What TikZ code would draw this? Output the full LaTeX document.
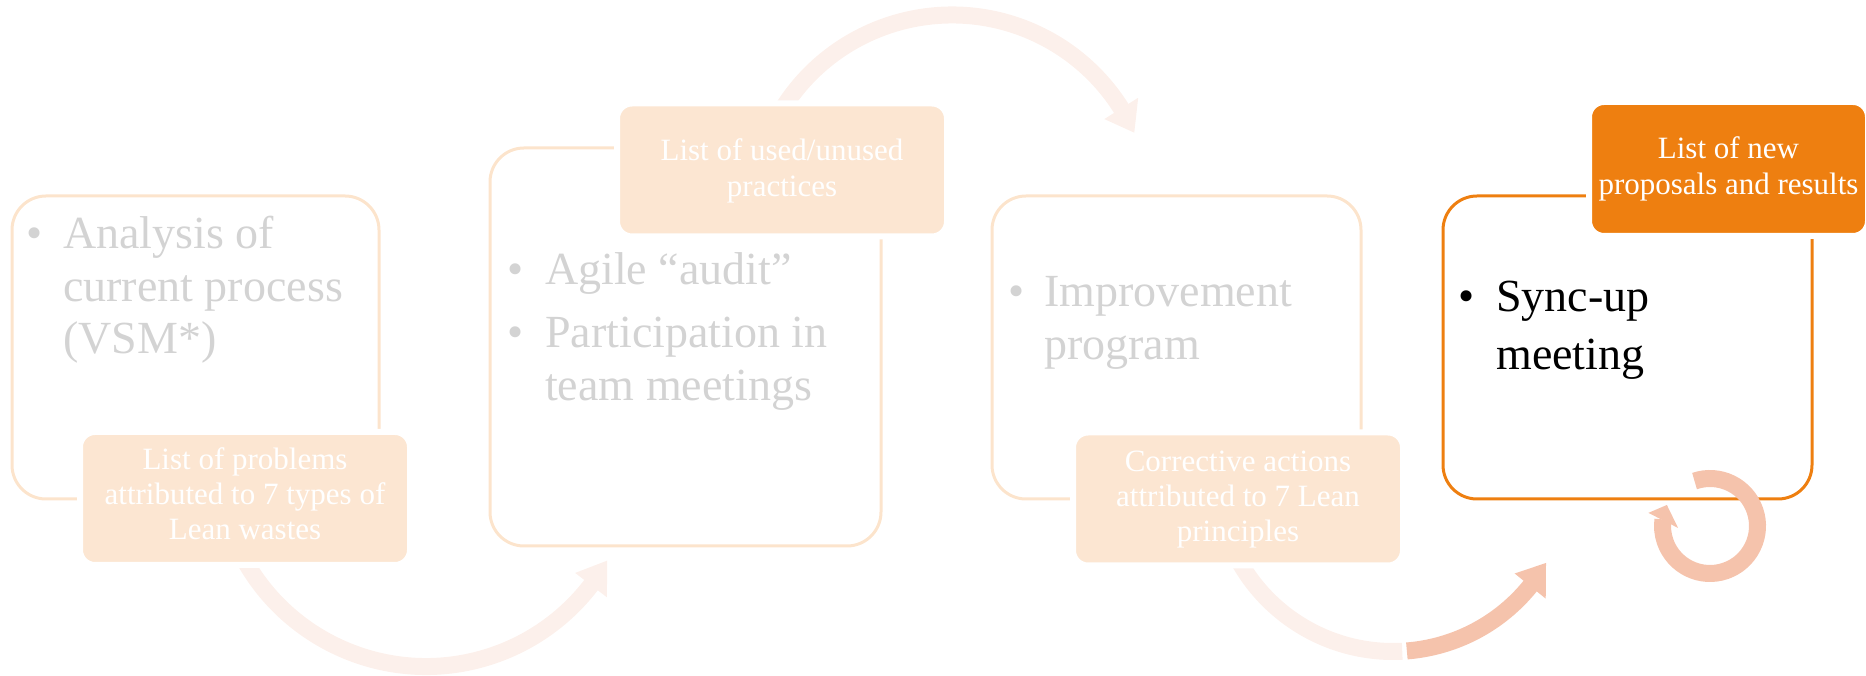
\documentclass[tikz,border=0pt]{standalone}
\usepackage{fontspec}
\setmainfont{Liberation Serif}
\usetikzlibrary{calc}
\definecolor{outF}{HTML}{FCE4CC}
\definecolor{lblF}{HTML}{FCE6D2}
\definecolor{txtG}{HTML}{D3D3D3}
\definecolor{arrF}{HTML}{FCF0EB}
\definecolor{salmon}{HTML}{F5C3AC}
\definecolor{orng}{HTML}{EE7F10}
\begin{document}
\begin{tikzpicture}[x=1pt,y=1pt,
 outbox/.style={draw=#1, line width=3pt, rounded corners=34pt, inner sep=0pt},
 lblbox/.style={fill=#1, draw=white, line width=6pt, rounded corners=15pt, inner sep=0pt, minimum width=330pt, minimum height=133pt},
 bigtxt/.style={font=\fontsize{46}{53}\selectfont, inner sep=0pt, anchor=base west, text=txtG},
 bul/.style={font=\fontsize{46}{53}\selectfont, inner sep=0pt, anchor=base, text=txtG},
 lbltxt/.style={font=\fontsize{31}{35}\selectfont, inner sep=0pt, anchor=base, text=white},
 band/.style={line width=17pt}
]
\useasboundingbox (0,0) rectangle (1866,676);
% outline boxes
\node[outbox=outF, minimum width=367pt, minimum height=303pt] (b1) at (195.5,328.5) {};
\node[outbox=outF, minimum width=391pt, minimum height=398pt] (b2) at (685.5,329) {};
\node[outbox=outF, minimum width=369pt, minimum height=303pt] (b3) at (1176.5,328.5) {};
\node[outbox=orng, minimum width=369pt, minimum height=303pt] (b4) at (1627.5,328.5) {};
% arc arrows
\coordinate (c1) at (426,217.5);
\coordinate (c2) at (952,461);
\coordinate (c3) at (1393,201);
\coordinate (c4) at (1710,150);
\draw[band, draw=arrF] ($(c1)+(200:208)$) arc[start angle=200, end angle=323, radius=208];
\fill[arrF] ($(c1)+(322.5:188)$) -- ($(c1)+(330.6:208)$) -- ($(c1)+(322.5:228)$) -- cycle;
\draw[band, draw=arrF] ($(c2)+(152:200)$) arc[start angle=152, end angle=31.7, radius=200];
\fill[arrF] ($(c2)+(32.2:180)$) -- ($(c2)+(24.3:200)$) -- ($(c2)+(32.2:220)$) -- cycle;
\draw[band, draw=arrF] ($(c3)+(200:176.5)$) arc[start angle=200, end angle=273, radius=176.5];
\draw[band, draw=salmon] ($(c3)+(274.5:176.5)$) arc[start angle=274.5, end angle=321.5, radius=176.5];
\fill[salmon] ($(c3)+(321:156.5)$) -- ($(c3)+(330.1:176.5)$) -- ($(c3)+(321:196.5)$) -- cycle;
\draw[band, draw=salmon] ($(c4)+(109:47.5)$) arc[start angle=109, end angle=-188, radius=47.5];
\fill[salmon] ($(c4)+(168:63)$) -- ($(c4)+(154:48)$) -- ($(c4)+(183.5:32)$) -- cycle;
% label boxes
\node[lblbox=lblF] (l1) at (245,177.5) {};
\node[lblbox=lblF] (l2) at (782,506) {};
\node[lblbox=lblF] (l3) at (1238,177) {};
\node[lblbox=orng, minimum width=279pt, minimum height=134pt] (l4) at (1728.5,507) {};
% box 1 text
\node[bul] (u1) at (35,427) {•};
\node[bigtxt] (t1a) at (63,427) {Analysis of};
\node[bigtxt] (t1b) at (63,374) {current process};
\node[bigtxt] (t1c) at (63,322) {(VSM*)};
% box 2 text
\node[bul] (u2a) at (516,391) {•};
\node[bigtxt] (t2a) at (545,391) {Agile “audit”};
\node[bul] (u2b) at (516,328) {•};
\node[bigtxt] (t2b) at (545,328) {Participation in};
\node[bigtxt] (t2c) at (545,275) {team meetings};
% box 3 text
\node[bul] (u3) at (1017,369) {•};
\node[bigtxt] (t3a) at (1044,369) {Improvement};
\node[bigtxt] (t3b) at (1044,316) {program};
% box 4 text
\node[bul, text=black] (u4) at (1467,364) {•};
\node[bigtxt, text=black] (t4a) at (1496,364) {Sync-up};
\node[bigtxt, text=black] (t4b) at (1496,306) {meeting};
% label texts
\node[lbltxt] (m1a) at (245,206) {List of problems};
\node[lbltxt] (m1b) at (245,171) {attributed to 7 types of};
\node[lbltxt] (m1c) at (245,136) {Lean wastes};
\node[lbltxt] (m2a) at (782,515) {List of used/unused};
\node[lbltxt] (m2b) at (782,479) {practices};
\node[lbltxt] (m3a) at (1238,204) {Corrective actions};
\node[lbltxt] (m3b) at (1238,169) {attributed to 7 Lean};
\node[lbltxt] (m3c) at (1238,134) {principles};
\node[lbltxt] (m4a) at (1728.5,517) {List of new};
\node[lbltxt] (m4b) at (1728.5,481) {proposals and results};
\end{tikzpicture}
\end{document}
